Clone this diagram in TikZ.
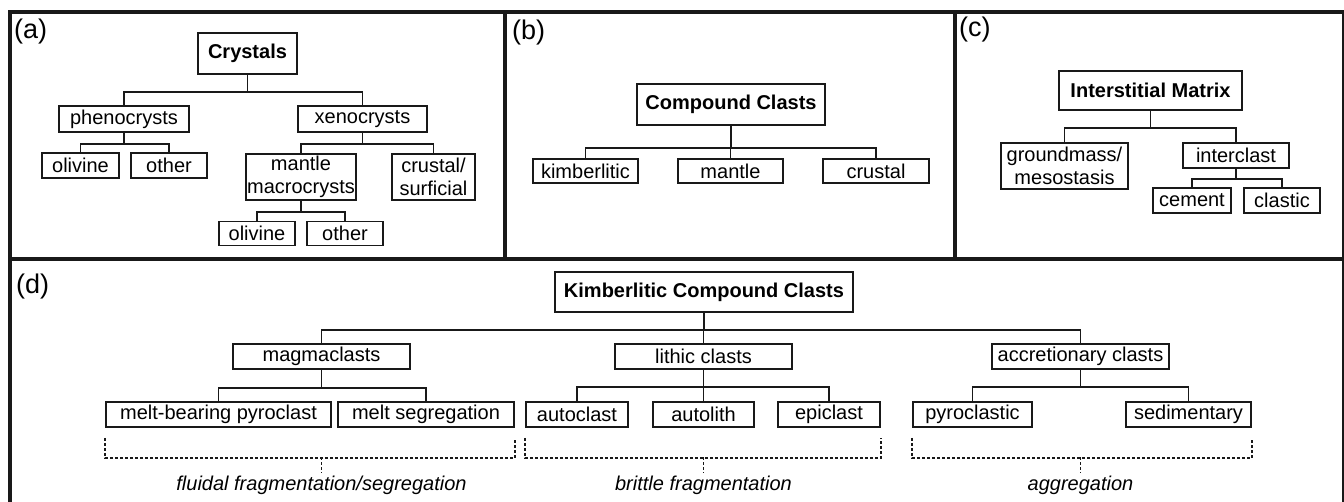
\documentclass[tikz,border=0pt]{standalone}
\usepackage{fontspec}
\setmainfont{Liberation Sans}
\usetikzlibrary{positioning}
\tikzset{
    frame/.style={line width=3.5pt, color=black!90},
    box/.style={draw, line width=1.7pt, color=black!90, text=black, inner sep=0pt, align=center, font=\fontsize{20}{22.5}\selectfont},
    head/.style={font=\fontsize{20}{22.5}\selectfont\bfseries},
    sz/.style 2 args={minimum width=#1pt, minimum height=#2pt},
    link/.style={line width=1.7pt, color=black!90},
    bracket/.style={line width=1.6pt, color=black!90, dash pattern=on 3pt off 2pt},
    lab/.style={anchor=west, inner sep=0pt, font=\fontsize{27}{29}\selectfont},
    proc/.style={anchor=base, inner sep=0pt, outer sep=3pt, font=\fontsize{20}{22}\selectfont\itshape}
}
\begin{document}
\begin{tikzpicture}[x=1pt, y=-1pt]
    \useasboundingbox (0,0) rectangle (1344,501);
    % frames
    \draw[frame] (10,505) -- (10,12) -- (1344,12) -- (1344,505);
    \draw[frame] (10,259) -- (1344,259);
    \draw[frame] (505,12) -- (505,259);
    \draw[frame] (955,12) -- (955,259);
    % panel (a)
    \node[lab] (la) at (14,32) {(a)};
    \node[box, head, sz={99}{41}] (crys) at (247.5,53.5) {Crystals};
    \node[box, sz={130}{26}] (pheno) at (124,119) {phenocrysts};
    \node[box, sz={129}{26}] (xeno) at (362.5,119) {xenocrysts};
    \node[box, sz={77}{25}] (oliva) at (80.5,165.5) {olivine};
    \node[box, sz={76}{25}] (otha) at (169,165.5) {other};
    \node[box, sz={110}{46}] (mant) at (301,177) {mantle\\macrocrysts};
    \node[box, sz={83}{46}] (crust) at (433.5,177) {crustal/\\surficial};
    \node[box, sz={76}{24}] (olivb) at (257,233.5) {olivine};
    \node[box, sz={76}{24}] (othb) at (345,233.5) {other};
    \foreach \c in {pheno,xeno} \draw[link] (crys.south) -- ++(0,17) -| (\c.north);
    \foreach \c in {oliva,otha} \draw[link] (pheno.south) -- ++(0,11) -| (\c.north);
    \foreach \c in {mant,crust} \draw[link] (xeno.south) -- ++(0,11) -| (\c.north);
    \foreach \c in {olivb,othb} \draw[link] (mant.south) -- ++(0,11) -| (\c.north);
    % panel (b)
    \node[lab] (lb) at (512,33) {(b)};
    \node[box, head, sz={188}{41}] (comp) at (731,104.5) {Compound Clasts};
    \node[box, sz={105}{24}] (kimb) at (585.5,171) {kimberlitic};
    \node[box, sz={105}{24}] (mantc) at (730.5,171) {mantle};
    \node[box, sz={106}{24}] (crustc) at (876,171) {crustal};
    \foreach \c in {kimb,mantc,crustc} \draw[link] (comp.south) -- ++(0,22) -| (\c.north);
    % panel (c)
    \node[lab] (lc) at (959,30) {(c)};
    \node[box, head, sz={183}{39}] (matx) at (1150.5,90.5) {Interstitial Matrix};
    \node[box, sz={127}{46}] (grnd) at (1064.5,166) {groundmass/\\mesostasis};
    \node[box, sz={106}{25}] (inter) at (1236,155.5) {interclast};
    \node[box, sz={78}{25}] (cem) at (1192,200.5) {cement};
    \node[box, sz={76}{25}] (clas) at (1282,200.5) {clastic};
    \foreach \c in {grnd,inter} \draw[link] (matx.south) -- ++(0,17) -| (\c.north);
    \foreach \c in {cem,clas} \draw[link] (inter.south) -- ++(0,10) -| (\c.north);
    % panel (d)
    \node[lab] (ld) at (16,287) {(d)};
    \node[box, head, sz={298}{40}] (kcc) at (704,292) {Kimberlitic Compound Clasts};
    \node[box, sz={177}{25}] (magma) at (321.5,356.5) {magmaclasts};
    \node[box, sz={177}{25}] (lith) at (703.5,356.5) {lithic clasts};
    \node[box, sz={177}{25}] (accr) at (1080.5,356.5) {accretionary clasts};
    \node[box, sz={225}{25}] (mbp) at (218.5,414.5) {melt-bearing pyroclast};
    \node[box, sz={176}{25}] (mseg) at (426,414.5) {melt segregation};
    \node[box, sz={102}{25}] (autoc) at (577,414.5) {autoclast};
    \node[box, sz={101}{25}] (autol) at (703.5,414.5) {autolith};
    \node[box, sz={102}{25}] (epi) at (829,414.5) {epiclast};
    \node[box, sz={119}{25}] (pyro) at (972.5,414.5) {pyroclastic};
    \node[box, sz={125}{25}] (sedi) at (1188.5,414.5) {sedimentary};
    \foreach \c in {magma,lith,accr} \draw[link] (kcc.south) -- ++(0,17) -| (\c.north);
    \foreach \c in {mbp,mseg} \draw[link] (magma.south) -- ++(0,18) -| (\c.north);
    \foreach \c in {autoc,autol,epi} \draw[link] (lith.south) -- ++(0,17) -| (\c.north);
    \foreach \c in {pyro,sedi} \draw[link] (accr.south) -- ++(0,17) -| (\c.north);
    % processes
    \node[proc] (flu) at (321.5,490) {fluidal fragmentation/segregation};
    \node[proc] (brit) at (703.5,490) {brittle fragmentation};
    \node[proc] (aggr) at (1080.5,490) {aggregation};
    \draw[bracket] ([yshift=-10pt]mbp.south west) -- ++(0,20) -| ([yshift=-10pt]mseg.south east);
    \draw[bracket] ([yshift=-10pt]autoc.south west) -- ++(0,20) -| ([yshift=-10pt]epi.south east);
    \draw[bracket] ([yshift=-10pt]pyro.south west) -- ++(0,20) -| ([yshift=-10pt]sedi.south east);
    \coordinate (fm) at (321.5,457);
    \coordinate (bm) at (703.5,457);
    \coordinate (am) at (1080.5,457);
    \draw[bracket] (fm) -- (flu.north);
    \draw[bracket] (bm) -- (brit.north);
    \draw[bracket] (am) -- (aggr.north);
\end{tikzpicture}
\end{document}
